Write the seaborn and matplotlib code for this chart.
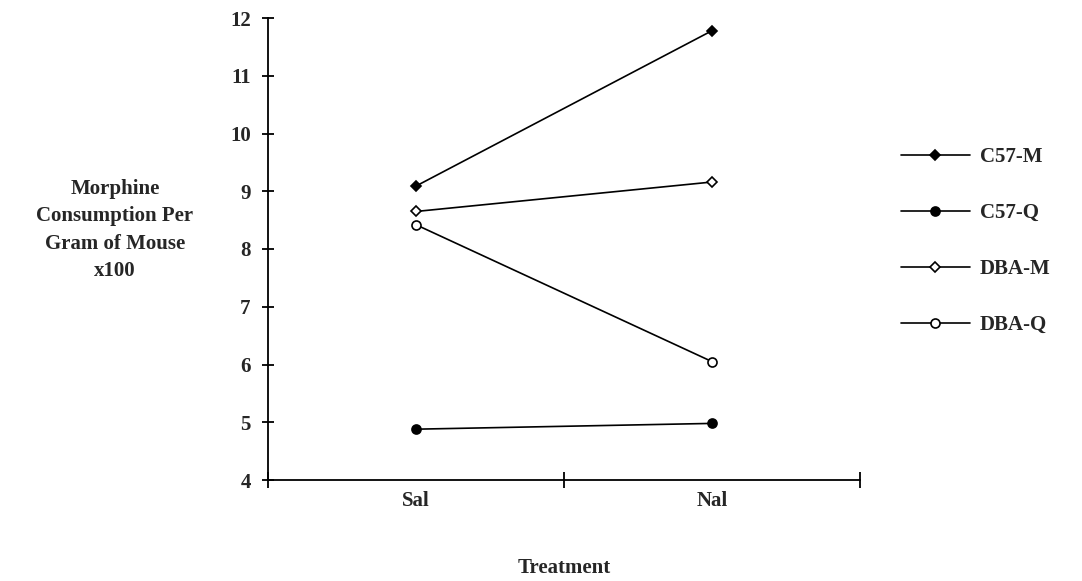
import matplotlib
matplotlib.use("Agg")
import matplotlib.pyplot as plt
import seaborn as sns
import pandas as pd
from matplotlib.ticker import FixedLocator, NullFormatter

# Treatment conditions and morphine consumption per gram of mouse (x100)
treatments = ["Sal", "Nal"]
groups = ["C57-M", "C57-Q", "DBA-M", "DBA-Q"]
c57_m = [9.09, 11.78]
c57_q = [4.88, 4.98]
dba_m = [8.65, 9.16]
dba_q = [8.42, 6.05]
yticks = [4, 5, 6, 7, 8, 9, 10, 11, 12]

series = {"C57-M": c57_m, "C57-Q": c57_q, "DBA-M": dba_m, "DBA-Q": dba_q}
rows = []
for g in groups:
    for i, t in enumerate(treatments):
        rows.append({"group": g, "treatment": t, "pos": i, "value": series[g][i]})
df = pd.DataFrame(rows)

sns.set_theme(style="white")
plt.rcParams["font.family"] = ["Liberation Serif", "DejaVu Serif"]
plt.rcParams["font.weight"] = "bold"

fig = plt.figure(figsize=(10.82, 5.81), dpi=100)
ax = fig.add_axes([268 / 1082, 1 - 480 / 581, (860 - 268) / 1082, (480 - 18) / 581])

styles = {
    "C57-M": dict(marker="D", markerfacecolor="black", markersize=5.5),
    "C57-Q": dict(marker="o", markerfacecolor="black", markersize=6.5),
    "DBA-M": dict(marker="D", markerfacecolor="white", markersize=5.5),
    "DBA-Q": dict(marker="o", markerfacecolor="white", markersize=6.5),
}
for g in groups:
    sub = df[df["group"] == g]
    sns.lineplot(data=sub, x="pos", y="value", ax=ax, color="black", linewidth=1.2,
                 markeredgecolor="black", markeredgewidth=1.2, label=g, **styles[g])

ax.set_xlim(-0.5, 1.5)
ax.set_ylim(4, 12)
ax.set_yticks(yticks)
ax.set_yticklabels([str(v) for v in yticks], fontsize=15, fontweight="bold")

# Category boundaries carry the tick marks; category names sit at the centres
ax.xaxis.set_major_locator(FixedLocator([-0.5, 0.5, 1.5]))
ax.xaxis.set_major_formatter(NullFormatter())
ax.xaxis.set_minor_locator(FixedLocator([0, 1]))
ax.set_xticklabels(treatments, minor=True, fontsize=15, fontweight="bold")
ax.tick_params(axis="x", which="major", bottom=True, direction="inout", length=12,
               width=1.3, color="black")
ax.tick_params(axis="x", which="minor", bottom=True, length=0, pad=8)
ax.tick_params(axis="y", left=True, direction="inout", length=9, width=1.3,
               color="black", pad=8)

for side in ["top", "right"]:
    ax.spines[side].set_visible(False)
for side in ["left", "bottom"]:
    ax.spines[side].set_color("black")
    ax.spines[side].set_linewidth(1.3)

ax.set_xlabel("")
ax.set_ylabel("")
fig.text(564 / 1082, 1 - 568 / 581, "Treatment", ha="center", va="center",
         fontsize=15, fontweight="bold")
fig.text(115 / 1082, 1 - 230 / 581, "Morphine\nConsumption Per\nGram of Mouse\nx100",
         ha="center", va="center", fontsize=15, fontweight="bold", linespacing=1.47)

ax.legend(loc="center left", bbox_to_anchor=(882 / 1082, 1 - 241 / 581),
          bbox_transform=fig.transFigure, frameon=False,
          handlelength=3.3, handletextpad=0.5, labelspacing=1.73,
          prop={"weight": "bold", "size": 15})

fig.savefig("out.png", dpi=100, facecolor="white")
